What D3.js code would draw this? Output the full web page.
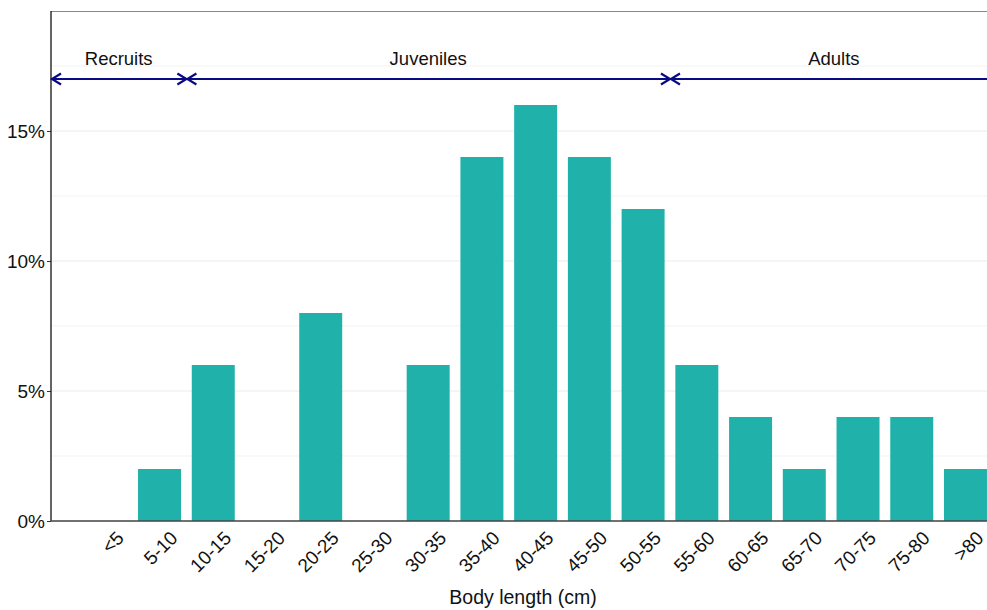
<!DOCTYPE html>
<html><head><meta charset="utf-8">
<script src="https://cdn.jsdelivr.net/npm/d3@7"></script>
<style>body{margin:0;background:#fff}svg{display:block}text{font-family:"Liberation Sans",Arial,sans-serif}</style>
</head><body>
<script>
const categories = ["<5","5-10","10-15","15-20","20-25","25-30","30-35","35-40","40-45","45-50","50-55","55-60","60-65","65-70","70-75","75-80",">80"];
const values = [0,2,6,0,8,0,6,14,16,14,12,6,4,2,4,4,2];
const yTicks = [0,5,10,15];
const yMinor = [2.5,7.5,12.5,17.5];
const stages = ["Recruits","Juveniles","Adults"];
const stageBounds = [[-1.05,1.5],[1.5,10.5],[10.5,16.6]];

(function(){
const W=987,H=610;
const pLeft=51, pTop=11, pBottom=521;
const svg=d3.select("body").append("svg").attr("width",W).attr("height",H);
const step=53.73;
const x=d3.scaleBand().domain(categories).range([105.8-step/2,105.8-step/2+step*17]).paddingInner(0.2).paddingOuter(0.1);
const xc=d3.scaleLinear().domain([0,16]).range([105.8,105.8+16*step]);
const y=d3.scaleLinear().domain([0,19.615]).range([pBottom,pTop]);

// grid
svg.append("g").selectAll("line").data(yMinor).join("line")
 .attr("x1",pLeft).attr("x2",W).attr("y1",d=>y(d)).attr("y2",d=>y(d)).attr("stroke","#f2f2f2").attr("stroke-width",1);
svg.append("g").selectAll("line").data(yTicks).join("line")
 .attr("x1",pLeft).attr("x2",W).attr("y1",d=>y(d)).attr("y2",d=>y(d)).attr("stroke","#ebebeb").attr("stroke-width",1.1);

// bars
svg.append("g").selectAll("rect").data(values).join("rect")
 .attr("x",(d,i)=>x(categories[i])).attr("width",x.bandwidth())
 .attr("y",d=>y(d)).attr("height",d=>y(0)-y(d)).attr("fill","#20B2AA");

// panel border top
svg.append("line").attr("x1",pLeft).attr("x2",W).attr("y1",pTop+0.5).attr("y2",pTop+0.5).attr("stroke","#888").attr("stroke-width",1.2);

// axes
const yAxis=d3.axisLeft(y).tickValues(yTicks).tickFormat(d=>d+"%").tickSize(4).tickPadding(2);
const gy=svg.append("g").attr("transform",`translate(${pLeft},0)`).call(yAxis);
gy.attr("font-size",null).attr("font-family",null);
gy.select(".domain").remove();
gy.selectAll("line").attr("stroke","#333");
gy.selectAll("text").style("font-size","19px").attr("fill","#111");
svg.append("line").attr("x1",pLeft).attr("x2",pLeft).attr("y1",pTop).attr("y2",pBottom).attr("stroke","#111").attr("stroke-width",1.3);
svg.append("line").attr("x1",pLeft).attr("x2",W).attr("y1",pBottom).attr("y2",pBottom).attr("stroke","#444").attr("stroke-width",1.3);

// x labels
svg.append("g").selectAll("text").data(categories).join("text")
 .attr("transform",d=>`translate(${x(d)+x.bandwidth()/2+9.5},${pBottom+8.5}) rotate(-45)`)
 .attr("text-anchor","end").attr("dy","0.72em").style("font-size","19px").attr("fill","#111").text(d=>d);

svg.append("text").attr("x",523).attr("y",604).attr("text-anchor","middle").style("font-size","19.5px").attr("fill","#111").text("Body length (cm)");

// stage arrows
const ay=y(17), navy="#0a0a82";
const ag=svg.append("g");
stageBounds.forEach((b,i)=>{
  const x1=Math.max(pLeft,xc(b[0])), x2=xc(b[1]);
  ag.append("line").attr("x1",x1).attr("x2",x2).attr("y1",ay).attr("y2",ay).attr("stroke",navy).attr("stroke-width",2.2);
  const ah=(px,dir)=>ag.append("path").attr("d",`M${px+dir*9},${ay-5.5}L${px},${ay}L${px+dir*9},${ay+5.5}`).attr("fill","none").attr("stroke",navy).attr("stroke-width",2.2);
  ah(x1+1,1); ah(x2,-1);
  ag.append("text").attr("x",(x1+x2)/2).attr("y",y(17.55)).attr("text-anchor","middle").style("font-size","18.5px").attr("fill","#111").text(stages[i]);
});
})();
</script>
</body></html>
